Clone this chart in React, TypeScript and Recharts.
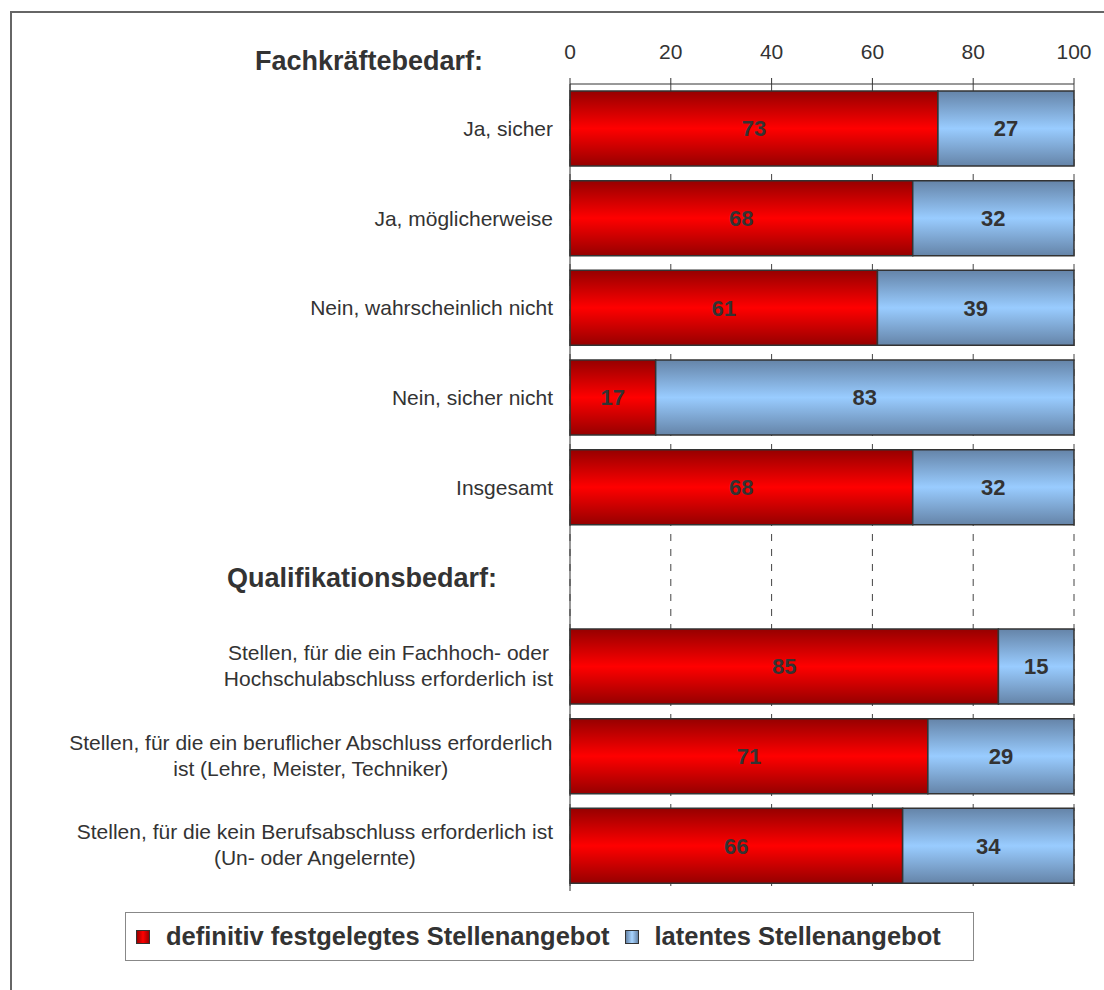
import { BarChart, Bar, XAxis, YAxis, CartesianGrid, LabelList } from 'recharts'

const HEADER_ROW = 'Qualifikationsbedarf:'

const categories = [
  'Ja, sicher',
  'Ja, möglicherweise',
  'Nein, wahrscheinlich nicht',
  'Nein, sicher nicht',
  'Insgesamt',
  HEADER_ROW,
  'Stellen, für die ein Fachhoch- oder\nHochschulabschluss erforderlich ist',
  'Stellen, für die ein beruflicher Abschluss erforderlich\nist (Lehre, Meister, Techniker)',
  'Stellen, für die kein Berufsabschluss erforderlich ist\n(Un- oder Angelernte)',
]

const definitiv = [73, 68, 61, 17, 68, null, 85, 71, 66]
const latent = [27, 32, 39, 83, 32, null, 15, 29, 34]

const xTicks = [0, 20, 40, 60, 80, 100]

const seriesNames = {
  definitiv: 'definitiv festgelegtes Stellenangebot',
  latent: 'latentes Stellenangebot',
}

const chartData = categories.map((name, i) => ({
  name,
  definitiv: definitiv[i],
  latent: latent[i],
}))

const FONT = '"Liberation Sans", Arial, Helvetica, sans-serif'
const INK = '#333333'

let measureCtx: CanvasRenderingContext2D | null = null
const textWidth = (s: string, font: string) => {
  if (!measureCtx && typeof document !== 'undefined') {
    measureCtx = document.createElement('canvas').getContext('2d')
  }
  if (!measureCtx) return s.length * 10
  measureCtx.font = font
  return measureCtx.measureText(s).width
}

const CategoryTick = ({ x, y, payload }: any) => {
  const value: string = payload.value
  if (value === HEADER_ROW) {
    return (
      <text x={227} y={y + 10} fill={INK} fontSize={27} fontWeight="bold" fontFamily={FONT}>
        {value}
      </text>
    )
  }
  const lines = value.split('\n')
  if (lines.length === 1) {
    return (
      <text x={x} y={y + 7} textAnchor="end" fill={INK} fontSize={21} fontFamily={FONT}>
        {value}
      </text>
    )
  }
  const font = `21px ${FONT}`
  const blockW = Math.max(...lines.map((l) => textWidth(l, font)))
  const cx = x - blockW / 2
  return (
    <g>
      {lines.map((l, i) => (
        <text
          key={i}
          x={cx}
          y={y - 7 + i * 26}
          textAnchor="middle"
          fill={INK}
          fontSize={21}
          fontFamily={FONT}
        >
          {l}
        </text>
      ))}
    </g>
  )
}

const fmtLabel = (v: any) => (v == null ? '' : v)

const LegendSwatch = ({ from, to }: { from: string; to: string }) => (
  <span
    style={{
      display: 'inline-block',
      width: 12,
      height: 12,
      border: '1px solid #333',
      background: `linear-gradient(to right, ${from}, ${to} 50%, ${from})`,
      marginRight: 16,
    }}
  />
)

export default function App() {
  return (
    <div
      style={{
        position: 'absolute',
        left: 0,
        top: 0,
        width: 1104,
        height: 990,
        background: '#fff',
        overflow: 'hidden',
        fontFamily: FONT,
      }}
    >
      <div
        style={{
          position: 'absolute',
          left: 10,
          top: 11,
          width: 1200,
          height: 1200,
          border: '2px solid #666',
        }}
      />
      <div
        style={{
          position: 'absolute',
          left: 255,
          top: 48,
          fontSize: 27,
          lineHeight: '27px',
          fontWeight: 'bold',
          color: INK,
        }}
      >
        Fachkräftebedarf:
      </div>
      <div style={{ position: 'absolute', left: 0, top: 0 }}>
        <BarChart
          width={1104}
          height={990}
          data={chartData}
          layout="vertical"
          margin={{ top: 54, right: 30, bottom: 99, left: 0 }}
        >
          <defs>
            <linearGradient id="redGrad" x1="0" y1="0" x2="0" y2="1">
              <stop offset="0%" stopColor="#960000" />
              <stop offset="50%" stopColor="#ff0000" />
              <stop offset="100%" stopColor="#960000" />
            </linearGradient>
            <linearGradient id="blueGrad" x1="0" y1="0" x2="0" y2="1">
              <stop offset="0%" stopColor="#6584a8" />
              <stop offset="50%" stopColor="#99ccff" />
              <stop offset="100%" stopColor="#6584a8" />
            </linearGradient>
          </defs>
          <CartesianGrid horizontal={false} stroke="#444" strokeDasharray="7 8" />
          <XAxis
            type="number"
            orientation="top"
            domain={[0, 100]}
            ticks={xTicks}
            height={30}
            axisLine={{ stroke: INK }}
            tickLine={{ stroke: INK }}
            tickSize={6}
            tickMargin={19}
            tick={{ fill: INK, fontSize: 21, fontFamily: FONT }}
          />
          <YAxis
            type="category"
            dataKey="name"
            width={570}
            axisLine={{ stroke: INK }}
            tickLine={false}
            tickSize={0}
            tickMargin={17}
            interval={0}
            tick={<CategoryTick />}
          />
          <Bar
            dataKey="definitiv"
            name={seriesNames.definitiv}
            stackId="a"
            barSize={75}
            fill="url(#redGrad)"
            stroke={INK}
            strokeWidth={1.5}
            isAnimationActive={false}
          >
            <LabelList
              dataKey="definitiv"
              position="center"
              formatter={fmtLabel}
              fill={INK}
              fontSize={22}
              fontWeight="bold"
              fontFamily={FONT}
            />
          </Bar>
          <Bar
            dataKey="latent"
            name={seriesNames.latent}
            stackId="a"
            barSize={75}
            fill="url(#blueGrad)"
            stroke={INK}
            strokeWidth={1.5}
            isAnimationActive={false}
          >
            <LabelList
              dataKey="latent"
              position="center"
              formatter={fmtLabel}
              fill={INK}
              fontSize={22}
              fontWeight="bold"
              fontFamily={FONT}
            />
          </Bar>
        </BarChart>
      </div>
      <div
        style={{
          position: 'absolute',
          left: 125,
          top: 912,
          width: 849,
          height: 49,
          boxSizing: 'border-box',
          border: '1px solid #888',
          background: '#fff',
          display: 'flex',
          alignItems: 'center',
          paddingLeft: 10,
          fontSize: 25.5,
          fontWeight: 'bold',
          color: INK,
          whiteSpace: 'nowrap',
        }}
      >
        <LegendSwatch from="#990000" to="#ff0000" />
        <span style={{ marginRight: 15 }}>{seriesNames.definitiv}</span>
        <LegendSwatch from="#6584a8" to="#a8d4ff" />
        <span>{seriesNames.latent}</span>
      </div>
    </div>
  )
}
